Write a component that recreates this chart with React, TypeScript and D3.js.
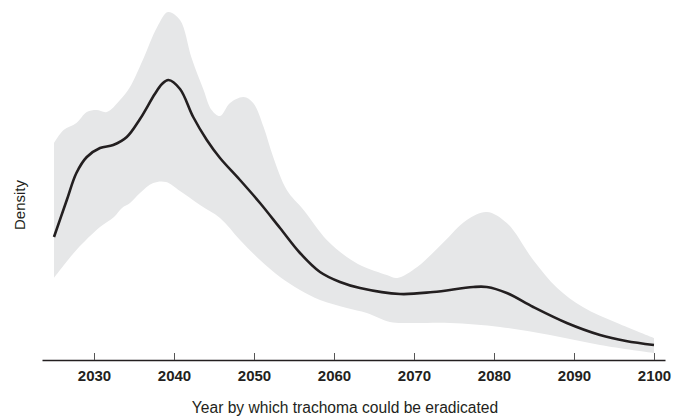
import React, { useEffect, useRef } from 'react';
import * as d3 from 'd3';

// values (density, arbitrary units)
const meanYears = [2025, 2026.6, 2027.8, 2029.1, 2030.75, 2032.4, 2034.1, 2035.75, 2037.6, 2038.5, 2039.3, 2040.75, 2042.4, 2044.1, 2045.75, 2048.25, 2050.75, 2053.25, 2055.75, 2058.25, 2060.75, 2063.25, 2068.25, 2072.4, 2077.4, 2079.1, 2081.6, 2084.9, 2089.1, 2093.25, 2096.5, 2100];
const meanDensity = [0.0123, 0.016, 0.0187, 0.0203, 0.0212, 0.0215, 0.0223, 0.0241, 0.0266, 0.0276, 0.028, 0.0271, 0.0243, 0.022, 0.0202, 0.018, 0.0157, 0.0132, 0.0107, 0.0088, 0.0078, 0.0072, 0.0066, 0.0068, 0.0073, 0.0073, 0.0067, 0.0053, 0.0037, 0.0025, 0.0019, 0.0015];

const upperYears = [2025, 2026.2, 2027.8, 2029.1, 2030.3, 2031.6, 2033.25, 2034.5, 2036.1, 2037.9, 2039.25, 2040.75, 2042.2, 2043.7, 2044.7, 2045.75, 2047, 2048.7, 2049.9, 2051.2, 2052.4, 2054.1, 2056.2, 2059.1, 2061.6, 2063.5, 2066.6, 2067.9, 2070.4, 2073.6, 2076.6, 2079.1, 2081.6, 2084.9, 2087.9, 2091.1, 2095.4, 2100];
const upperDensity = [0.0217, 0.023, 0.0237, 0.0248, 0.025, 0.0248, 0.026, 0.0273, 0.03, 0.0333, 0.0348, 0.034, 0.0302, 0.027, 0.025, 0.0244, 0.0257, 0.0263, 0.0257, 0.0233, 0.0203, 0.017, 0.015, 0.012, 0.0103, 0.0094, 0.0085, 0.0082, 0.0093, 0.0117, 0.014, 0.0148, 0.0137, 0.01, 0.0072, 0.0053, 0.0037, 0.0022];

const lowerYears = [2025, 2027.8, 2030.75, 2032.5, 2033.5, 2034.5, 2035.75, 2037.4, 2039, 2040.75, 2043.25, 2045.75, 2048.25, 2050.75, 2053.25, 2055.75, 2058.25, 2061.6, 2064.1, 2067, 2069.5, 2074.5, 2080.75, 2087, 2093.25, 2100];
const lowerDensity = [0.0082, 0.011, 0.0133, 0.0143, 0.0152, 0.0157, 0.0167, 0.0177, 0.0178, 0.0169, 0.0155, 0.0142, 0.012, 0.01, 0.0083, 0.007, 0.006, 0.0052, 0.0047, 0.0038, 0.0037, 0.0037, 0.0033, 0.0025, 0.0015, 0.0007];

const tickYears = [2030, 2040, 2050, 2060, 2070, 2080, 2090, 2100];

const W = 681;
const H = 416;

export default function App() {
  const ref = useRef<SVGSVGElement>(null);

  useEffect(() => {
    const svg = d3.select(ref.current);
    svg.selectAll('*').remove();

    const x = d3.scaleLinear().domain([2023.5, 2101.375]).range([42, 665]);
    const y = d3.scaleLinear().domain([0, 0.035]).range([360, 10]);

    const line = d3
      .line<[number, number]>()
      .x(d => x(d[0]))
      .y(d => y(d[1]))
      .curve(d3.curveCatmullRom.alpha(0.5));

    const upper = upperYears.map((yr, i) => [yr, upperDensity[i]] as [number, number]);
    const lower = lowerYears.map((yr, i) => [yr, lowerDensity[i]] as [number, number]).reverse();
    const mean = meanYears.map((yr, i) => [yr, meanDensity[i]] as [number, number]);

    // band = upper edge left to right, then lower edge back
    const bandPath = (line(upper) || '') + 'L' + (line(lower) || '').slice(1) + 'Z';

    svg.append('path').attr('d', bandPath).attr('fill', '#e6e7e8');

    svg
      .append('path')
      .attr('d', line(mean))
      .attr('fill', 'none')
      .attr('stroke', '#231f20')
      .attr('stroke-width', 2.6);

    const axis = svg
      .append('g')
      .attr('transform', 'translate(0,360)')
      .call(
        d3
          .axisBottom(x)
          .tickValues(tickYears)
          .tickFormat(d3.format('d'))
          .tickSizeInner(-7)
          .tickSizeOuter(0)
          .tickPadding(10)
      );

    axis.select('.domain').attr('stroke', '#231f20').attr('stroke-width', 1.3);
    axis.selectAll('.tick line').attr('stroke', '#555').attr('stroke-width', 1);
    axis
      .selectAll('.tick text')
      .attr('fill', '#231f20')
      .style('font-family', 'Liberation Sans, Arial, sans-serif')
      .style('font-size', '15px')
      .style('font-weight', 'bold');

    svg
      .append('text')
      .attr('x', 345)
      .attr('y', 413)
      .attr('text-anchor', 'middle')
      .attr('fill', '#231f20')
      .style('font-family', 'Liberation Sans, Arial, sans-serif')
      .style('font-size', '15.6px')
      .text('Year by which trachoma could be eradicated');

    svg
      .append('text')
      .attr('transform', 'translate(25,205) rotate(-90)')
      .attr('text-anchor', 'middle')
      .attr('fill', '#231f20')
      .style('font-family', 'Liberation Sans, Arial, sans-serif')
      .style('font-size', '15px')
      .text('Density');
  }, []);

  return (
    <svg
      ref={ref}
      width={W}
      height={H}
      style={{ position: 'absolute', left: 0, top: 0, background: '#fff' }}
    />
  );
}
